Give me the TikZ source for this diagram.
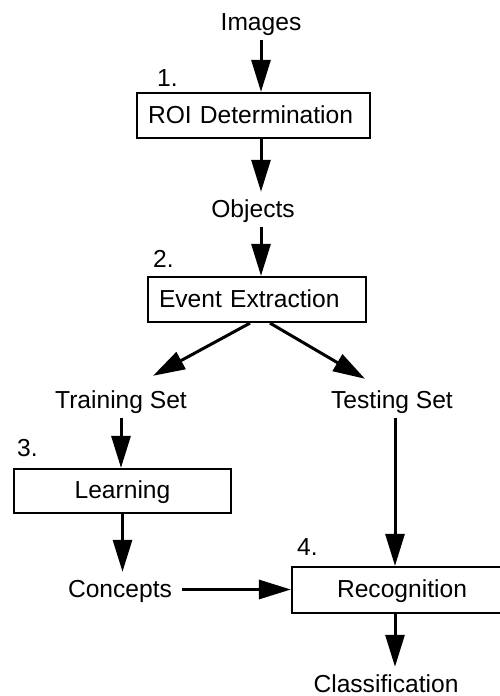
\documentclass[tikz,border=0pt]{standalone}
\usepackage{fontspec}
\setmainfont{Liberation Sans}
\usepackage{tikz}
\usetikzlibrary{arrows.meta, positioning}

\begin{document}
\begin{tikzpicture}[x=1pt, y=-1pt,
  every node/.style={font=\fontsize{24.6}{29}\selectfont},
  lbl/.style={inner xsep=0pt, inner ysep=5pt, text height=20pt, text depth=5pt},
  stage/.style={draw, line width=2.2pt, inner xsep=11pt, inner ysep=0pt, text height=20pt, text depth=5pt},
  flow/.style={line width=3pt, -{Triangle[length=32pt, width=19pt]}}]
\useasboundingbox (0,0) rectangle (499,696);
\node[lbl] (img) at (261,22.5) {Images};
\node[anchor=base west, inner sep=0pt] (n1) at (157,86) {1.};
\node[stage, minimum height=45pt, text width=211pt, align=left] (roi) at (253.5,115.5) {ROI Determination};
\node[lbl] (obj) at (253,209.5) {Objects};
\node[anchor=base west, inner sep=0pt] (n2) at (153,267) {2.};
\node[stage, minimum height=45pt, text width=196pt, align=left] (ext) at (257,299.5) {Event Extraction};
\node[lbl] (train) at (121,400.5) {Training Set};
\node[lbl] (test) at (392,400.5) {Testing Set};
\node[anchor=base west, inner sep=0pt] (n3) at (17,456) {3.};
\node[stage, minimum height=44pt, text width=195pt, align=center] (learn) at (122.5,491) {Learning};
\node[lbl] (conc) at (120,589.5) {Concepts};
\node[anchor=base west, inner sep=0pt] (n4) at (297,555) {4.};
\node[stage, minimum height=46pt, text width=198pt, align=center] (rec) at (402,590) {Recognition};
\node[lbl] (cls) at (386,684.5) {Classification};

\draw[flow] (img.south) -- (img.south |- roi.north);
\draw[flow] (roi.south -| img.south) -- (img.south |- obj.north);
\draw[flow] (obj.south -| img.south) -- (img.south |- ext.north);
\draw[flow] ([xshift=-7pt]ext.south) -- ([shift={(32,-7)}]train.north);
\draw[flow] ([xshift=13pt]ext.south) -- ([shift={(-27,-4)}]test.north);
\draw[flow] (train.south) -- (train.south |- learn.north);
\draw[flow] (learn.south) -- (learn.south |- conc.north);
\draw[flow] ([xshift=3pt]test.south) -- ([xshift=3pt]test.south |- rec.north);
\draw[flow, shorten <=10pt] (conc.east) -- (rec.west |- conc.east);
\draw[flow] ([xshift=-7pt]rec.south) -- ([xshift=-7pt]rec.south |- cls.north);
\end{tikzpicture}
\end{document}
